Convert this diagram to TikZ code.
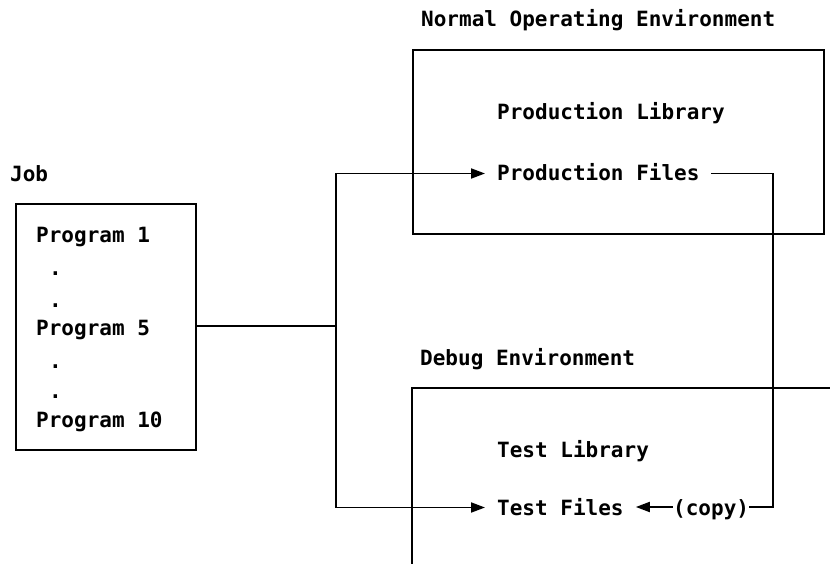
\documentclass[tikz,border=0pt]{standalone}
\usepackage{fontspec}
\setmonofont{DejaVu Sans Mono}
\usetikzlibrary{arrows.meta}
\begin{document}
\begin{tikzpicture}[x=1pt,y=-1pt,
  txt/.style={font=\ttfamily\bfseries\fontsize{21}{24}\selectfont, anchor=base west, inner sep=0pt},
  ftxt/.style={txt, inner xsep=12pt},
  ln/.style={line width=1.9pt, line cap=rect},
  arr/.style={ln, -{Triangle[length=14pt,width=10pt]}},
  boxs/.style={draw, line width=1.9pt, inner sep=0pt, anchor=north west}]
\useasboundingbox (0,0) rectangle (830,564);
\fill[white] (0,0) rectangle (830,564);

% Job box
\node[txt] (jobt) at (10,182) {Job};
\node[boxs, minimum width=180pt, minimum height=246pt] (job) at (15,203) {};
\node[txt] (p1) at (36,243) {Program 1};
\node[txt] (d1) at (49,276) {.};
\node[txt] (d2) at (49,307) {.};
\node[txt] (p5) at (36,335) {Program 5};
\node[txt] (d3) at (49,368) {.};
\node[txt] (d4) at (49,398) {.};
\node[txt] (p10) at (36,427) {Program 10};

% Normal operating environment
\node[txt] (not) at (421,27) {Normal Operating Environment};
\node[boxs, minimum width=411pt, minimum height=184pt] (nbox) at (412,49) {};
\node[txt] (pl) at (497,120) {Production Library};
\node[ftxt] (pf) at (485,181) {Production Files};

% Debug environment (open frame)
\node[txt] (det) at (420,365) {Debug Environment};
\coordinate (dtl) at (412,388);
\coordinate (dtr) at (832,388);
\coordinate (dbl) at (412,566);
\draw[ln, line cap=butt] (dtr) -- (dtl) -- (dbl);
\node[txt] (tl) at (497,457) {Test Library};
\node[ftxt] (tf) at (485,515) {Test Files};
\node[txt, inner xsep=1pt] (cp) at (672,515) {(copy)};

% connectors
\coordinate (j) at (336,326);
\coordinate (cr) at (773,507);
\draw[ln] (job.east |- j) -- (j);
\draw[arr] (j) |- ([yshift=7.5pt]pf.base west);
\draw[arr] (j) |- ([yshift=7.5pt]tf.base west);
\draw[ln] ([yshift=7.5pt]pf.base east) -| (cr) -- ([yshift=8pt]cp.base east);
\draw[arr] ([yshift=8pt]cp.base west) -- ([yshift=8pt]tf.base east);
\end{tikzpicture}
\end{document}
